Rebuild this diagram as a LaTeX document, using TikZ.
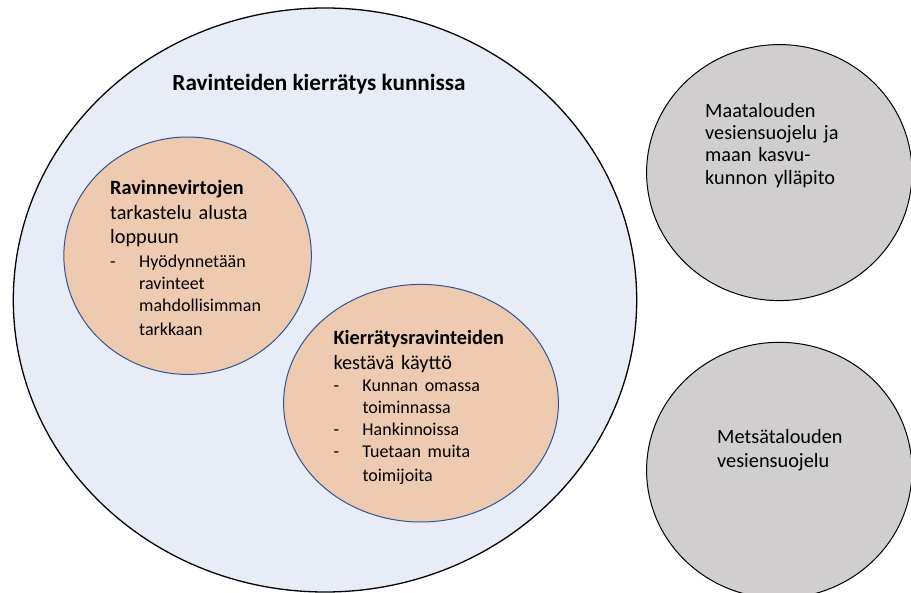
\documentclass[tikz,border=0pt]{standalone}
\usepackage{fontspec}
\setmainfont{Carlito}
\usetikzlibrary{shapes.geometric}
\definecolor{VaaleaSini}{HTML}{E8ECF7}
\definecolor{Persikka}{HTML}{EECAB0}
\definecolor{TummaSini}{HTML}{2F5597}
\definecolor{Harmaa}{HTML}{D0CECE}
\newcommand{\isot}{\fontsize{20.3pt}{24.2pt}\selectfont}
\newcommand{\pienet}{\fontsize{18pt}{21.9pt}\selectfont}
\newcommand{\viiva}{\makebox[29pt][l]{-}}
\newcommand{\sisennys}{\hspace*{29pt}}

\begin{document}
\begin{tikzpicture}[x=1pt,y=-1pt,
  kehys/.style={ellipse,inner sep=0pt,draw=black,line width=1.3pt,fill=VaaleaSini},
  pallo/.style={ellipse,inner sep=0pt,draw=TummaSini,line width=1pt,fill=Persikka},
  muu/.style={ellipse,inner sep=0pt,draw=black,line width=1pt,fill=Harmaa},
  teksti/.style={anchor=base west,inner sep=0pt,text width=220pt,align=left,font=\isot}]
\clip (0,0) rectangle (911,593);

% iso kehys ja sen sisalla olevat pallot
\node[kehys,minimum width=623.4pt,minimum height=584pt] (kunta) at (325,300) {};
\node[pallo,minimum width=247.5pt,minimum height=237.4pt] (virrat) at (187.6,255.7) {};
\node[pallo,minimum width=274.8pt,minimum height=237.6pt] (kaytto) at (421,403.2) {};

% harmaat pallot oikealla
\node[muu,minimum width=265.4pt,minimum height=256pt] (maatalous) at (779.3,172.6) {};
\node[muu,minimum width=265.4pt,minimum height=256pt] (metsatalous) at (779.3,470.3) {};

% tekstit
\node[anchor=base,inner sep=0pt,font=\fontsize{23.2pt}{28pt}\selectfont\bfseries] (otsikko) at (319,90.5) {Ravinteiden kierrätys kunnissa};
\node[teksti] (virrat-t) at (110,195) {\textbf{Ravinnevirtojen}\\ tarkastelu alusta\\ loppuun\par\vspace{2.6pt}\pienet
  \viiva Hyödynnetään\\ \sisennys ravinteet\\ \sisennys mahdollisimman\\ \sisennys tarkkaan};
\node[teksti] (kaytto-t) at (333.3,345) {\textbf{Kierrätysravinteiden}\\ kestävä käyttö\par\vspace{0.3pt}\pienet
  \viiva Kunnan omassa\\ \sisennys toiminnassa\\ \viiva Hankinnoissa\\ \viiva Tuetaan muita\\ \sisennys toimijoita};
\node[teksti,font=\fontsize{20.3pt}{22.2pt}\selectfont] (maatalous-t) at (705,117.5) {Maatalouden\\ vesiensuojelu ja\\ maan kasvu-\\ kunnon ylläpito};
\node[teksti,font=\fontsize{20.3pt}{23.3pt}\selectfont] (metsatalous-t) at (717,444) {Metsätalouden\\ vesiensuojelu};

\end{tikzpicture}
\end{document}
